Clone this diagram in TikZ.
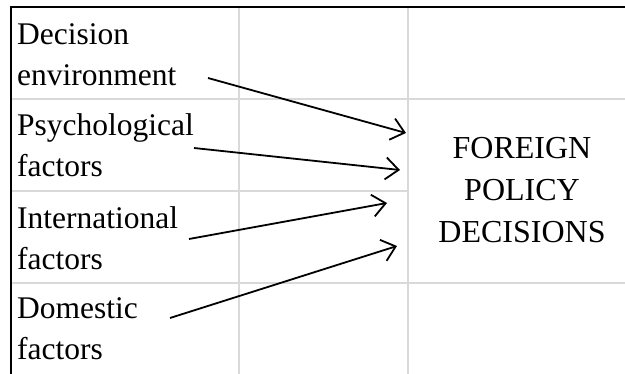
\documentclass[tikz,border=0pt]{standalone}
\usepackage{fontspec}
\setmainfont{Liberation Serif}
\usetikzlibrary{arrows.meta}
\begin{document}
\begin{tikzpicture}[x=1pt,y=-1pt,
  grid/.style={draw={rgb,255:red,217;green,217;blue,217},line width=2.6pt},
  border/.style={draw=black,line width=2.6pt},
  cell/.style={anchor=base west,inner sep=0pt,align=left,font=\fontsize{31.5}{41}\selectfont},
  result/.style={anchor=base,inner sep=0pt,align=center,font=\fontsize{32}{42}\selectfont},
  link/.style={draw=black,line width=1.8pt,-{Straight Barb[length=13pt,width=22pt,line width=1.8pt]}}]
\useasboundingbox (0,0) rectangle (625,374);
% grid
\draw[grid] (239,7) -- (239,374);
\draw[grid] (408,7) -- (408,374);
\draw[grid] (11,99) -- (625,99);
\draw[grid] (11,191) -- (408,191);
\draw[grid] (11,283) -- (625,283);
% borders
\draw[border] (11,374) -- (11,7) -- (625,7);
% texts (base = last line's baseline)
\node[cell] (env) at (17,86) {Decision\\environment};
\node[cell] (psy) at (17,177) {Psychological\\factors};
\node[cell] (int) at (17,270) {International\\factors};
\node[cell] (dom) at (17,360) {Domestic\\factors};
\node[result] (fpd) at (522,243) {FOREIGN\\POLICY\\DECISIONS};
% arrow ends
\coordinate (s1) at (208,78);
\coordinate (e1) at (406,133);
\coordinate (s2) at (194,148);
\coordinate (e2) at (400,170);
\coordinate (s3) at (189,239);
\coordinate (e3) at (387,203);
\coordinate (s4) at (170,318);
\coordinate (e4) at (397,246);
\draw[link] (s1) -- (e1);
\draw[link] (s2) -- (e2);
\draw[link] (s3) -- (e3);
\draw[link] (s4) -- (e4);
\end{tikzpicture}
\end{document}
